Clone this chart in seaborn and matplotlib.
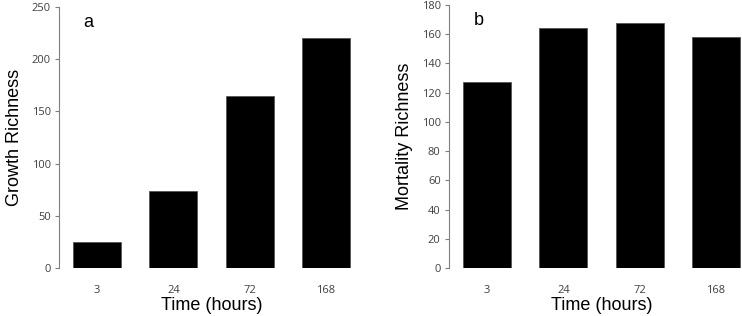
import pandas as pd
import seaborn as sns
import matplotlib.pyplot as plt

# data
times = ['3', '24', '72', '168']
growth = [25, 74, 165, 220]
mortality = [127, 164, 168, 158]

sns.set_theme(style='white')
plt.rcParams['font.family'] = ['Liberation Sans', 'DejaVu Sans']

W, H = 742, 316
fig = plt.figure(figsize=(W / 100, H / 100), dpi=100)
ax_a = fig.add_axes([59 / W, 48 / H, 305 / W, 261 / H])
ax_b = fig.add_axes([449 / W, 48 / H, 305 / W, 263 / H])

panels = [
    (ax_a, growth, 'Growth Richness', 'a', 250, 50),
    (ax_b, mortality, 'Mortality Richness', 'b', 180, 20),
]

for ax, vals, ylab, tag, ymax, step in panels:
    df = pd.DataFrame({'Time': times, 'Value': vals})
    sns.barplot(data=df, x='Time', y='Value', color='black', width=0.63,
                saturation=1, edgecolor='#555555', linewidth=0.6, ax=ax)
    ax.set_xlim(-0.5, 3.5)
    ax.set_ylim(0, ymax)
    ax.set_yticks(range(0, ymax + 1, step))
    for s in ['top', 'right', 'bottom']:
        ax.spines[s].set_visible(False)
    ax.spines['left'].set_color('#7f7f7f')
    ax.spines['left'].set_linewidth(0.8)
    ax.tick_params(axis='y', left=True, length=3, width=0.8, color='#7f7f7f',
                   labelsize=8, labelcolor='#404040', pad=3)
    ax.tick_params(axis='x', bottom=False, labelsize=8, labelcolor='#404040', pad=6)
    for lbl in ax.get_xticklabels() + ax.get_yticklabels():
        lbl.set_family(['Open Sans', 'DejaVu Sans'])
    ax.set_xlabel('Time (hours)', fontsize=13, labelpad=1, color='black')
    ax.set_ylabel(ylab, fontsize=13, labelpad=6, color='black')
    ax.text(0.08, 0.94, tag, transform=ax.transAxes, fontsize=13,
            va='center', color='black')

fig.savefig('out.png', dpi=100)
